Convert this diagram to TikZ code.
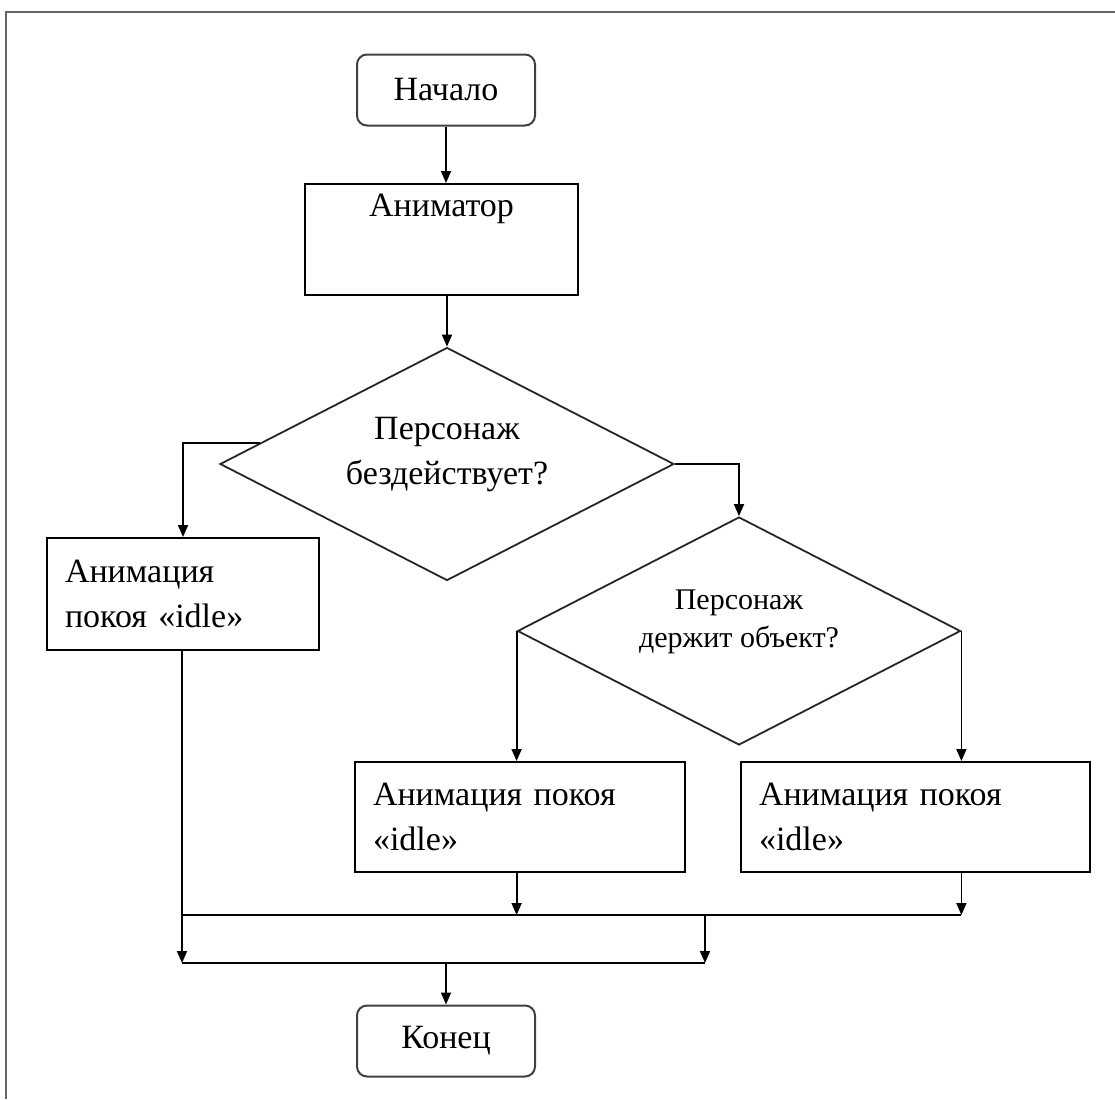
\documentclass[tikz,border=0pt]{standalone}
\usepackage{fontspec}
\setmainfont{Liberation Serif}
\usetikzlibrary{arrows.meta}
\usetikzlibrary{positioning}
\usetikzlibrary{shapes.geometric}
\usetikzlibrary{calc}
\tikzset{term/.style = {draw = black!75, line width = 1pt, rounded corners = 5pt,
    minimum width = 89pt, minimum height = 35.5pt, inner sep = 0}}
\tikzset{proc/.style = {draw, line width = 1pt, inner xsep = 9pt, inner ysep = 0,
    align = left, text width = #1}}
\tikzset{cond/.style = {draw = black!85, diamond, aspect = 1.95, line width = 0.9pt,
    inner sep = 0, align = center}}
\tikzset{flow/.style = {line width = 0.9pt, -{Triangle[length = 6pt, width = 5pt]}}}
\newcommand{\txt}{\fontsize{17}{22.5}\selectfont}

\begin{document}
\begin{tikzpicture}[x = 0.5pt, y = -0.5pt, font = \txt]
      \useasboundingbox (0, 0) rectangle (1115, 1099);
      \draw [black!60, line width = 1.2pt] (6, 1099) -- (6, 12) -- (1115, 12);

      \node [term] (start) at (446, 90) {Начало};
      \node [proc = 118.5pt, minimum width = 136.5pt, minimum height = 55.5pt,
        label = {[anchor = north, yshift = -2pt]north:Аниматор}] (anim) at (441.5, 239.5) {};
      \node [cond, minimum width = 227pt, minimum height = 116.5pt] (idle) at (447, 464)
        {Персонаж\\бездействует?\\[-9.5pt]};
      \node [proc = 118pt, minimum height = 56pt] (stand) at (183, 594)
        {Анимация\\покоя «idle»};
      \node [cond, minimum width = 221.5pt, minimum height = 114pt,
        font = \fontsize{15}{19}\selectfont] (hold) at (739, 631)
        {Персонаж\\держит объект?\\[-7pt]};
      \node [proc = 147pt, minimum height = 55pt] (holdyes) at (520, 817)
        {Анимация покоя\\«idle»\\[2pt]};
      \node [proc = 156.5pt, minimum height = 55pt] (holdno) at (915.5, 817)
        {Анимация покоя\\«idle»\\[2pt]};
      \node [term] (stop) at (446, 1041) {Конец};

      \coordinate (busa) at (182, 915);
      \coordinate (busb) at (182, 963);
      \coordinate (drop) at (705, 915);

      \draw [flow] (start.south) -- (start.south |- anim.north);
      \draw [flow] (anim.south -| idle.north) -- (idle.north);
      \draw [flow] ($(idle.west)!0.18!(idle.north)$) -| (stand.north);
      \draw [flow] (idle.east) -| (hold.north);
      \draw [flow] (hold.west) -- (hold.west |- holdyes.north);
      \draw [flow] (hold.east) -- (hold.east |- holdno.north);
      \draw [flow] (stand.south -| busa) -- (busb);
      \draw [line width = 0.9pt] (busa) -- (busa -| hold.east);
      \draw [flow] (holdyes.south -| hold.west) -- (busa -| hold.west);
      \draw [flow] (holdno.south -| hold.east) -- (busa -| hold.east);
      \draw [flow] (drop) -- (drop |- busb);
      \draw [line width = 0.9pt] (busb) -- (busb -| drop);
      \draw [flow] (busb -| stop.north) -- (stop.north);
    \end{tikzpicture}
\end{document}
